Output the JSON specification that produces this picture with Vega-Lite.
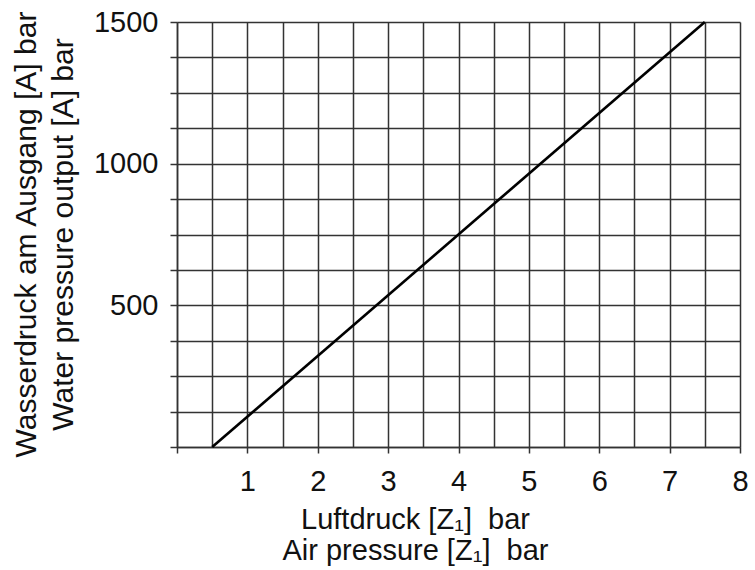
{
  "$schema": "https://vega.github.io/schema/vega-lite/v6.json",
  "width": 563,
  "height": 425,
  "autosize": "none",
  "padding": {"left": 177, "top": 22, "right": 15, "bottom": 123},
  "background": "white",
  "config": {
    "view": {"stroke": null},
    "font": "Liberation Sans",
    "axis": {
      "labelFont": "Liberation Sans",
      "titleFont": "Liberation Sans",
      "labelColor": "#111",
      "titleColor": "#111",
      "titleFontWeight": "normal",
      "gridColor": "#333",
      "gridWidth": 1.5,
      "gridOpacity": 1,
      "domainColor": "#333",
      "domainWidth": 1.5,
      "tickColor": "#333",
      "tickWidth": 1.5
    }
  },
  "data": {
    "values": [
      {"air": 0.5, "water": 0},
      {"air": 7.5, "water": 1500}
    ]
  },
  "mark": {"type": "line", "color": "#000", "strokeWidth": 2.6},
  "encoding": {
    "x": {
      "field": "air",
      "type": "quantitative",
      "scale": {"domain": [0, 8], "nice": false, "zero": false},
      "axis": {
        "values": [0, 0.5, 1, 1.5, 2, 2.5, 3, 3.5, 4, 4.5, 5, 5.5, 6, 6.5, 7, 7.5, 8],
        "grid": true,
        "labelExpr": "datum.value % 1 === 0 && datum.value > 0 ? format(datum.value, 'd') : ''",
        "labelOverlap": false,
        "labelFlush": false,
        "labelFontSize": 29,
        "labelBaseline": "top",
        "labelPadding": 14,
        "tickSize": 6,
        "tickOpacity": {"condition": {"test": "datum.value % 1 !== 0", "value": 0}, "value": 1},
        "title": ["Luftdruck [Z₁]\u00a0 bar", "Air pressure [Z₁]\u00a0 bar"],
        "titleFontSize": 29,
        "titleLineHeight": 31,
        "titleAlign": "center",
        "titleBaseline": "alphabetic",
        "titleX": 238,
        "titleY": 81
      }
    },
    "y": {
      "field": "water",
      "type": "quantitative",
      "scale": {"domain": [0, 1500], "nice": false, "zero": false},
      "axis": {
        "values": [0, 125, 250, 375, 500, 625, 750, 875, 1000, 1125, 1250, 1375, 1500],
        "grid": true,
        "labelExpr": "datum.value % 500 === 0 && datum.value > 0 ? format(datum.value, 'd') : ''",
        "labelOverlap": false,
        "labelFlush": false,
        "labelFontSize": 29,
        "labelPadding": 12,
        "tickSize": 7,
        "title": ["Wasserdruck am Ausgang [A] bar", "Water pressure output [A] bar"],
        "titleFontSize": 30,
        "titleLineHeight": 37,
        "titleAngle": -90,
        "titleAlign": "center",
        "titleBaseline": "alphabetic",
        "titleX": -142,
        "titleY": 212
      }
    }
  }
}
